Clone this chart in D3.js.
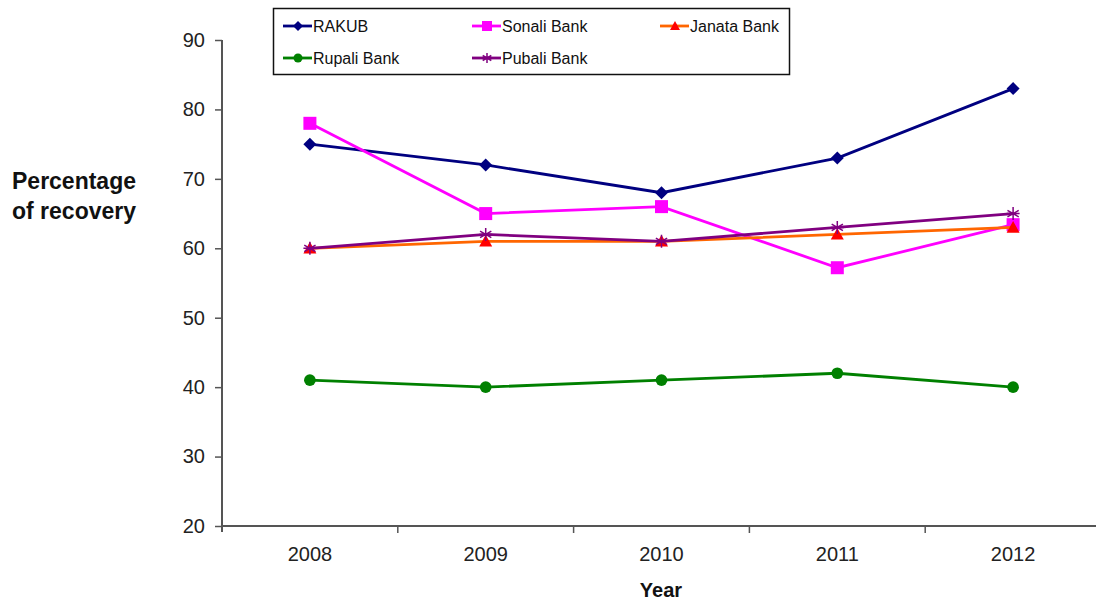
<!DOCTYPE html>
<html>
<head>
<meta charset="utf-8">
<script src="https://cdn.jsdelivr.net/npm/d3@7.9.0/dist/d3.min.js"></script>
<style>
  body { margin: 0; background: #fff; }
  svg { font-family: "Liberation Sans", Arial, sans-serif; }
</style>
</head>
<body>
<svg id="chart" width="1096" height="605"></svg>
<script>
const years = ['2008', '2009', '2010', '2011', '2012'];
const yTicks = [20, 30, 40, 50, 60, 70, 80, 90];

const rakub = [75, 72, 68, 73, 83];
const sonali = [78, 65, 66, 57.2, 63.4];
const janata = [60, 61, 61, 62, 63];
const rupali = [41, 40, 41, 42, 40];
const pubali = [60, 62, 61, 63, 65];

const series = [
  { name: 'RAKUB', values: rakub, line: '#000080', fill: '#000080', marker: 'diamond' },
  { name: 'Sonali Bank', values: sonali, line: '#ff00ff', fill: '#ff00ff', marker: 'square' },
  { name: 'Janata Bank', values: janata, line: '#ff6600', fill: '#ff0000', marker: 'triangle' },
  { name: 'Rupali Bank', values: rupali, line: '#008000', fill: '#008000', marker: 'circle' },
  { name: 'Pubali Bank', values: pubali, line: '#800080', fill: '#800080', marker: 'star' }
];

const svg = d3.select('#chart');

let x = d3.scaleBand().domain(years).range([222, 1101]).paddingInner(0).paddingOuter(0);
let y = d3.scaleLinear().domain([20, 90]).range([526, 40]);

// y axis
let yAxis = svg.append('g')
  .attr('transform', 'translate(222,0)')
  .call(d3.axisLeft(y).tickValues(yTicks).tickSize(7).tickPadding(10).tickFormat(d3.format('d')));
yAxis.select('.domain').attr('stroke', '#555').attr('stroke-width', 2).attr('d', 'M0,40V532');
yAxis.selectAll('.tick line').attr('stroke', '#555').attr('stroke-width', 1.5);
yAxis.selectAll('text').attr('font-size', 20).attr('fill', '#222');

// x axis
let xAxis = svg.append('g')
  .attr('transform', 'translate(0,526)')
  .call(d3.axisBottom(x).tickSize(0).tickPadding(21));
xAxis.select('.domain').attr('stroke', '#555').attr('stroke-width', 2).attr('d', 'M222,0H1101');
xAxis.selectAll('text').attr('font-size', 20).attr('fill', '#222');
xAxis.selectAll('.bound')
  .data(years.slice(1))
  .join('line')
  .attr('x1', d => x(d)).attr('x2', d => x(d))
  .attr('y1', 0).attr('y2', 7)
  .attr('stroke', '#555').attr('stroke-width', 1.5);

// axis titles
svg.append('text')
  .attr('x', 12).attr('y', 189)
  .attr('font-size', 23).attr('font-weight', 'bold').attr('fill', '#111')
  .text('Percentage');
svg.append('text')
  .attr('x', 12).attr('y', 219)
  .attr('font-size', 23).attr('font-weight', 'bold').attr('fill', '#111')
  .text('of recovery');
svg.append('text')
  .attr('x', 661).attr('y', 597)
  .attr('text-anchor', 'middle')
  .attr('font-size', 20).attr('font-weight', 'bold').attr('fill', '#111')
  .text('Year');

function drawMarker(g, type, cx, cy, s, s2) {
  if (type === 'diamond') {
    g.append('path').attr('d', `M${cx},${cy - s}L${cx + s},${cy}L${cx},${cy + s}L${cx - s},${cy}Z`)
      .attr('fill', s2.fill);
  } else if (type === 'square') {
    g.append('rect').attr('x', cx - s).attr('y', cy - s).attr('width', 2 * s).attr('height', 2 * s)
      .attr('fill', s2.fill);
  } else if (type === 'triangle') {
    g.append('path').attr('d', `M${cx},${cy - s}L${cx + s},${cy + s * 0.8}L${cx - s},${cy + s * 0.8}Z`)
      .attr('fill', s2.fill);
  } else if (type === 'circle') {
    g.append('circle').attr('cx', cx).attr('cy', cy).attr('r', s * 0.9).attr('fill', s2.fill);
  } else if (type === 'star') {
    let d = '';
    [0, 60, 120].forEach(a => {
      let r = a * Math.PI / 180;
      d += `M${cx - s * Math.sin(r)},${cy - s * Math.cos(r)}L${cx + s * Math.sin(r)},${cy + s * Math.cos(r)}`;
    });
    d += `M${cx - s},${cy}L${cx + s},${cy}`;
    g.append('path').attr('d', d).attr('stroke', s2.fill).attr('stroke-width', 1.5).attr('fill', 'none');
  }
}

const line = d3.line().x((d, i) => x(years[i]) + x.bandwidth() / 2).y(d => y(d));

series.forEach(s => {
  let g = svg.append('g');
  g.append('path')
    .attr('d', line(s.values))
    .attr('fill', 'none')
    .attr('stroke', s.line)
    .attr('stroke-width', 2.8);
  s.values.forEach((v, i) => {
    drawMarker(g, s.marker, x(years[i]) + x.bandwidth() / 2, y(v), 6.5, s);
  });
});

// legend
let legend = svg.append('g');
legend.append('rect')
  .attr('x', 273.5).attr('y', 8.5).attr('width', 516).attr('height', 66)
  .attr('fill', '#fff').attr('stroke', '#111').attr('stroke-width', 1.5);
const legendCols = [283, 472, 660];
const legendRows = [26, 58];
series.forEach((s, i) => {
  let lx = legendCols[i % 3];
  let ly = legendRows[Math.floor(i / 3)];
  let g = legend.append('g');
  g.append('line').attr('x1', lx).attr('x2', lx + 29).attr('y1', ly).attr('y2', ly)
    .attr('stroke', s.line).attr('stroke-width', 2.8);
  drawMarker(g, s.marker, lx + 15, ly, 5, s);
  g.append('text').attr('x', lx + 30).attr('y', ly + 6)
    .attr('font-size', 16).attr('fill', '#111')
    .text(s.name);
});
</script>
</body>
</html>
